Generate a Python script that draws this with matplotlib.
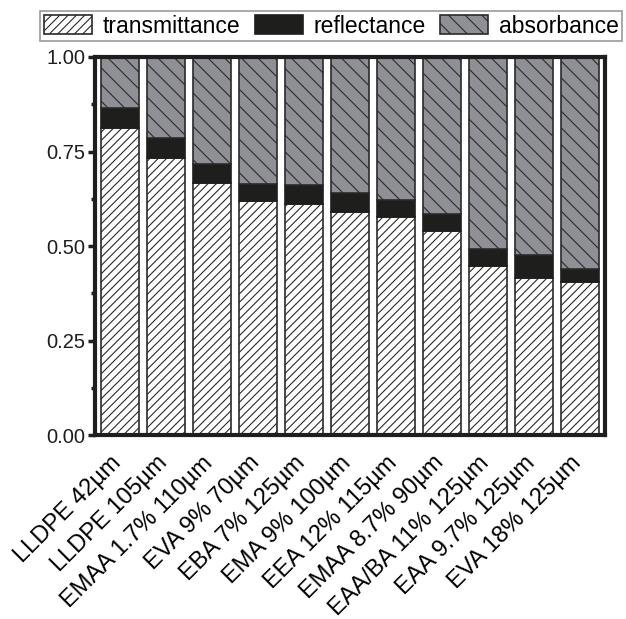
import matplotlib
matplotlib.use('Agg')
import matplotlib.pyplot as plt
from matplotlib.ticker import MultipleLocator
from matplotlib.transforms import ScaledTranslation
import numpy as np

plt.rcParams['font.family'] = ['Liberation Sans', 'DejaVu Sans']
plt.rcParams['hatch.linewidth'] = 0.8

# sample names (x tick labels)
samples = ['LLDPE 42µm', 'LLDPE 105µm', 'EMAA 1.7% 110µm', 'EVA 9% 70µm',
           'EBA 7% 125µm', 'EMA 9% 100µm', 'EEA 12% 115µm', 'EMAA 8.7% 90µm',
           'EAA/BA 11% 125µm', 'EAA 9.7% 125µm', 'EVA 18% 125µm']

# fractions
transmittance = [0.813, 0.734, 0.667, 0.619, 0.612, 0.589, 0.576, 0.540, 0.447, 0.415, 0.405]
reflectance = [0.053, 0.053, 0.051, 0.046, 0.050, 0.051, 0.045, 0.046, 0.046, 0.061, 0.034]
absorbance = [0.134, 0.213, 0.282, 0.335, 0.338, 0.360, 0.379, 0.414, 0.507, 0.524, 0.561]

x = np.arange(len(samples))
t = np.array(transmittance)
r = np.array(reflectance)
a = np.array(absorbance)

fig = plt.figure(figsize=(6.26, 6.19), dpi=100)
ax = fig.add_axes([0.152, 0.297, 0.814, 0.611])

w = 0.82
edge = '#2a2a2a'
b1 = ax.bar(x, t, w, color='white', edgecolor=edge, hatch='////', linewidth=1.2,
            label='transmittance')
b2 = ax.bar(x, r, w, bottom=t, color='#1e1e1c', edgecolor='#1e1e1c', linewidth=1.2,
            label='reflectance')
b3 = ax.bar(x, a, w, bottom=t + r, color='#8f9095', edgecolor=edge, hatch='\\\\',
            linewidth=1.2, label='absorbance')

ax.set_xlim(-0.54, len(samples) - 0.47)
ax.set_ylim(0, 1.0)
ax.yaxis.set_major_locator(MultipleLocator(0.25))
ax.yaxis.set_minor_locator(MultipleLocator(0.125))
ax.set_yticklabels([f'{v:.2f}' for v in ax.get_yticks()])
ax.tick_params(axis='y', which='major', direction='out', length=5, width=2.5,
               labelsize=14.5, pad=2, colors='#1e1e1e')
ax.tick_params(axis='y', which='minor', direction='out', length=3, width=2.5,
               colors='#1e1e1e')
ax.tick_params(axis='x', length=0, labelsize=17, pad=12)
ax.set_xticks(x)
ax.set_xticklabels(samples, rotation=45, ha='right', rotation_mode='anchor')
shift = ScaledTranslation(-10 / 100, 0, fig.dpi_scale_trans)
for lbl in ax.get_xticklabels():
    lbl.set_transform(lbl.get_transform() + shift)
for s in ax.spines.values():
    s.set_linewidth(3)
    s.set_color('#1e1e1e')

leg = fig.legend(handles=[b1, b2, b3], loc='upper center', bbox_to_anchor=(0.529, 0.982),
                 ncol=3, fontsize=16.5, frameon=True, fancybox=False, borderpad=0.15,
                 handlelength=2.1, handleheight=0.9, handletextpad=0.45,
                 columnspacing=0.65, borderaxespad=0)
leg.get_frame().set_edgecolor('#808080')
leg.get_frame().set_linewidth(1.2)

fig.savefig('out.png', dpi=100)
